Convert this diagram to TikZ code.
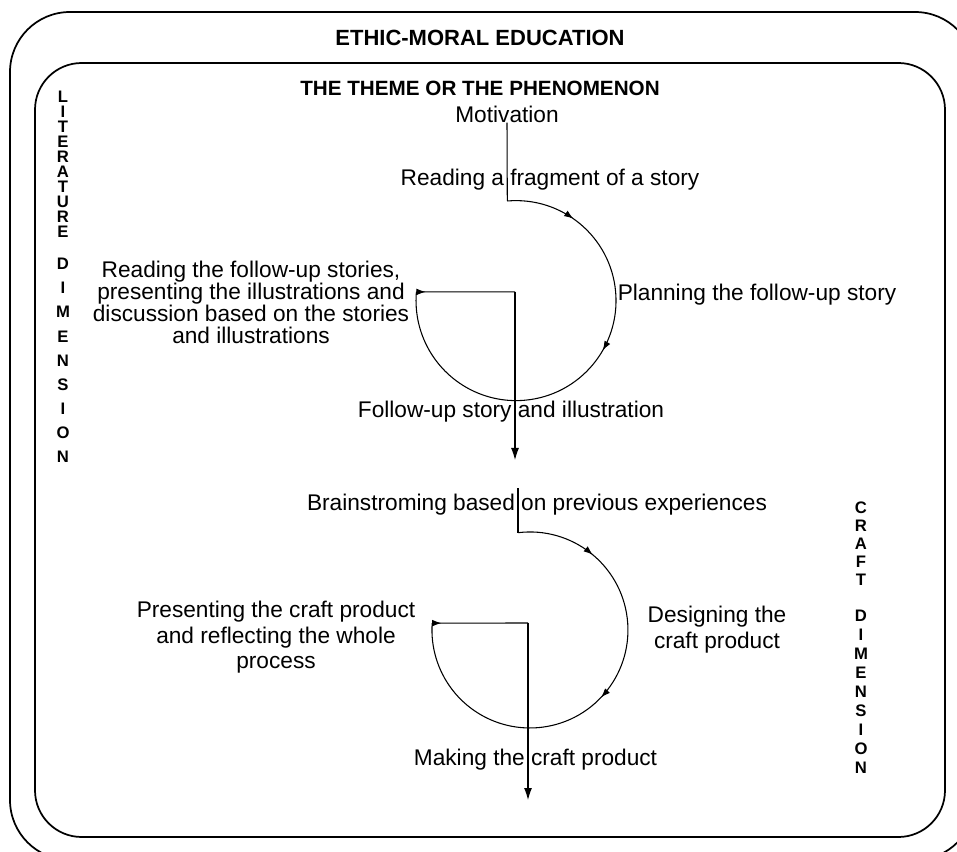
\documentclass[tikz,border=0pt]{standalone}
\usepackage{fontspec}
\setmainfont{Liberation Sans}
\usetikzlibrary{arrows.meta,decorations.markings}

\tikzset{
    frame/.style={line width=1.3pt, rounded corners=#1},
    stage/.style={font=\fontsize{17}{#1}\selectfont, inner sep=0pt, align=center},
    stage/.default=16.3,
    heading/.style={font=\fontsize{#1}{18}\selectfont\bfseries, inner sep=0pt},
    heading/.default=16.5,
    dimletters/.style={font=\fontsize{12.5}{#1}\selectfont\bfseries, align=center, inner sep=0pt, anchor=north},
    cycleline/.style={line width=0.8pt},
    downtip/.style={cycleline, -{Latex[length=9pt,width=6pt]}},
    cyclemarks/.style 2 args={cycleline, postaction={decorate, decoration={markings,
        mark=at position #1 with {\arrow{Latex[length=7pt,width=5pt]}},
        mark=at position #2 with {\arrow{Latex[length=7pt,width=5pt]}}}}},
    startmark/.style={cycleline, postaction={decorate, decoration={markings,
        mark=at position 7pt with {\arrow{Latex[length=7pt,width=5pt]}}}}}
}

\begin{document}
\begin{tikzpicture}[x=0.75pt, y=0.75pt]
    \useasboundingbox (0,0) rectangle (957,851);

    % frames
    \draw[frame=45] (10,-9) rectangle (975,839);
    \draw[frame=35] (35,14) rectangle (945,788);

    \node[heading] (ethic) at (480,813) {ETHIC-MORAL EDUCATION};
    \node[heading=15.5] (theme) at (480,763) {THE THEME OR THE PHENOMENON};

    % dimensions
    \node[dimletters=11.25] (litword) at (63,760) {L\\I\\T\\E\\R\\A\\T\\U\\R\\E};
    \node[dimletters=18.1] (litdim) at (63,593) {D\\I\\M\\E\\N\\S\\I\\O\\N};
    \node[dimletters=13.5] (craftword) at (861,349) {C\\R\\A\\F\\T};
    \node[dimletters=14.25] (craftdim) at (861,241) {D\\I\\M\\E\\N\\S\\I\\O\\N};

    % literature cycle
    \node[stage] (motiv) at (507,737) {Motivation};
    \node[stage] (fragment) at (550,671) {Reading a fragment of a story};
    \node[stage] (planning) at (757,556) {Planning the follow-up story};
    \node[stage] (followup) at (511,439) {Follow-up story and illustration};
    \node[stage] (readback) at (251,548.5) {Reading the follow-up stories,\\presenting the illustrations and\\discussion based on the stories\\and illustrations};

    \coordinate (top1) at (507.3,650);
    \coordinate (hub1) at (515,559.2);
    \coordinate (out1) at (515,391);
    \draw[cycleline] (motiv.south) -- (top1);
    \draw[cyclemarks={0.143}{0.446}] (top1) arc[start angle=95, end angle=-185, radius=100] coordinate (left1);
    \draw[startmark] (left1) -- (hub1);
    \draw[downtip] (hub1) -- (out1);

    % craft cycle
    \node[stage] (brainstorm) at (537,346) {Brainstroming based on previous experiences};
    \node[stage=19.5] (designing) at (717,221) {Designing the\\craft product};
    \node[stage] (making) at (535.5,91) {Making the craft product};
    \node[stage=19.1] (presenting) at (276,213.5) {Presenting the craft product\\and reflecting the whole\\process};

    \coordinate (in2) at (518,363);
    \coordinate (top2) at (518,318.3);
    \coordinate (hub2) at (528,228);
    \coordinate (out2) at (528,51);
    \draw[cycleline] (in2) -- (top2);
    \draw[cyclemarks={0.167}{0.5}] (top2) arc[start angle=97, end angle=-184, radius=98] coordinate (left2);
    \draw[startmark] (left2) -- (hub2);
    \draw[downtip] (hub2) -- (out2);
\end{tikzpicture}
\end{document}
